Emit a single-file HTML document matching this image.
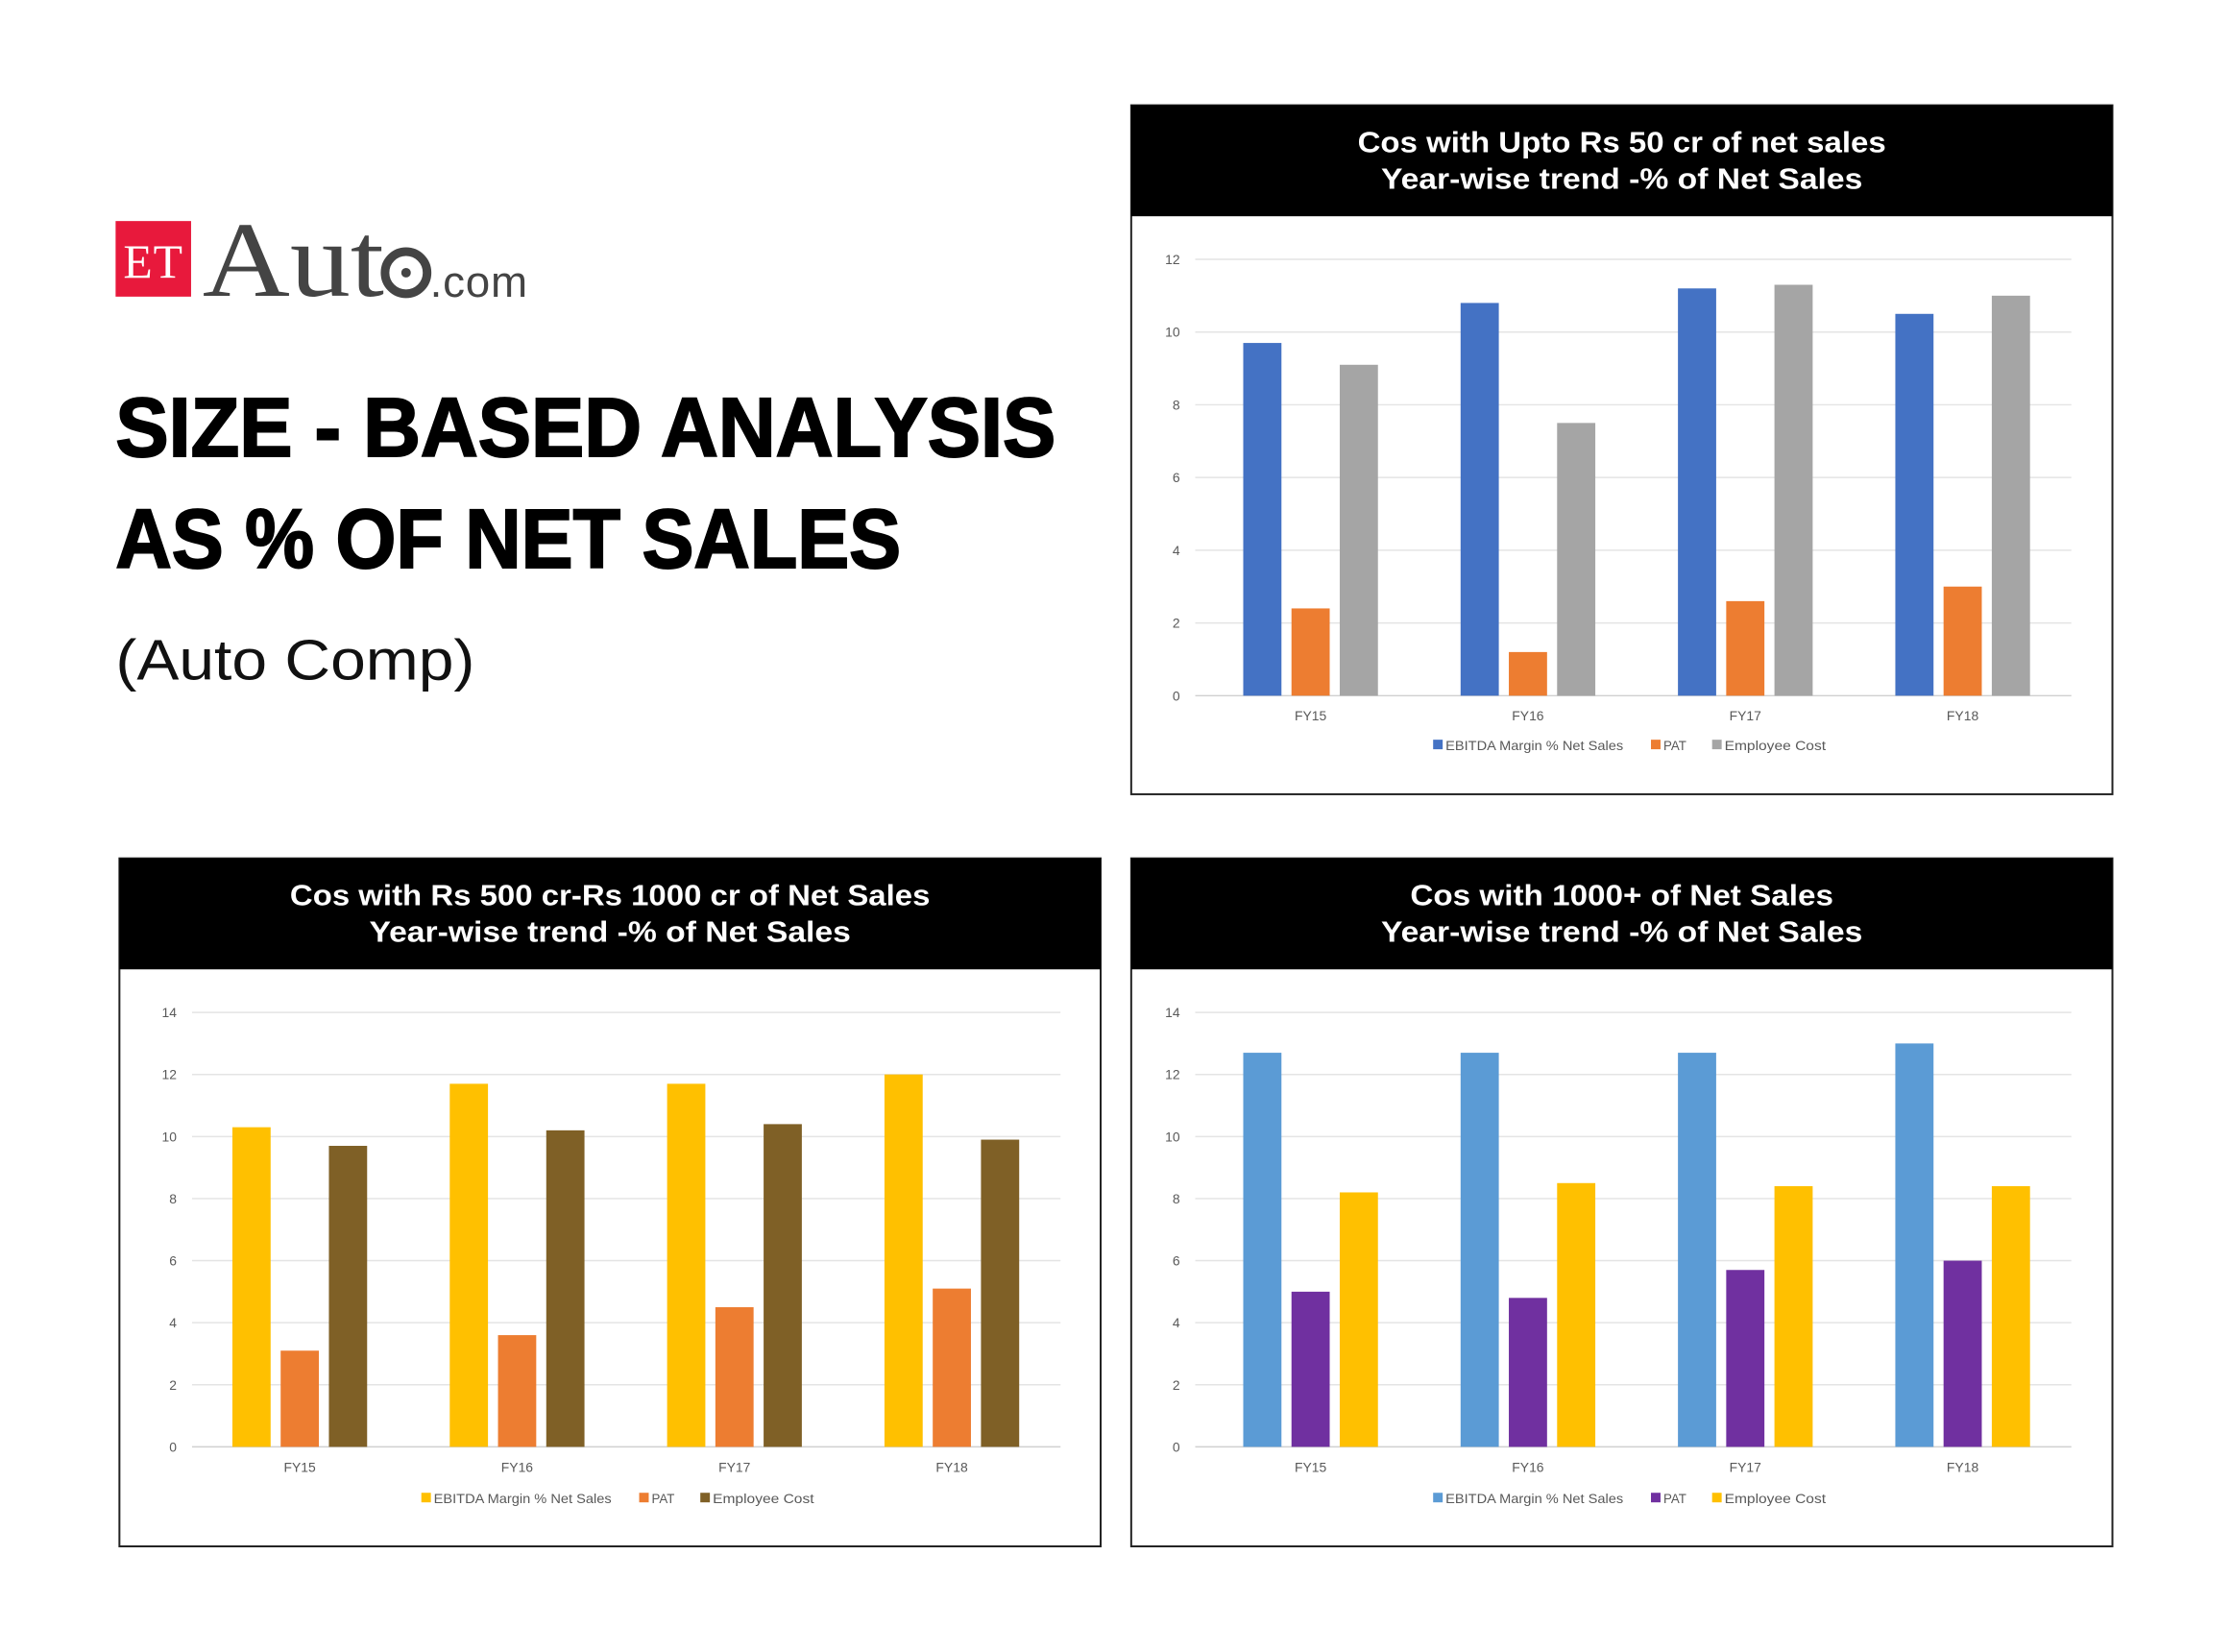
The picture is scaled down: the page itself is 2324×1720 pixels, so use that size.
<!DOCTYPE html>
<html><head><meta charset="utf-8">
<style>
html,body{margin:0;padding:0;background:#fff;}
svg{display:block;}
</style></head>
<body>
<svg id="page" width="2324" height="1720" viewBox="0 0 2324 1720" xmlns="http://www.w3.org/2000/svg">
  <rect width="2324" height="1720" fill="#fff"/>
  <g transform="scale(0.9948,0.9963)">
  <g>
    <rect x="121" y="231" width="79" height="79" fill="#e8193c"/>
    <text x="160" y="290" font-family="Liberation Serif, serif" font-size="50" fill="#fff" text-anchor="middle" textLength="62">ET</text>
    <text x="212" y="309" font-family="Liberation Serif, serif" font-size="112" fill="#444" textLength="190" lengthAdjust="spacingAndGlyphs">Aut</text>
    <circle cx="425" cy="285" r="22" fill="none" stroke="#444" stroke-width="9"/>
    <circle cx="425" cy="285" r="5" fill="#444"/>
    <text x="450" y="310" font-family="Liberation Sans, sans-serif" font-size="46" fill="#444" textLength="102">.com</text>
  </g>
  <text x="121" y="477" font-family="Liberation Sans, sans-serif" font-weight="bold" font-size="88" fill="#000" stroke="#000" stroke-width="2" textLength="984" lengthAdjust="spacingAndGlyphs">SIZE - BASED ANALYSIS</text>
  <text x="121" y="593" font-family="Liberation Sans, sans-serif" font-weight="bold" font-size="88" fill="#000" stroke="#000" stroke-width="2" textLength="822" lengthAdjust="spacingAndGlyphs">AS % OF NET SALES</text>
  <text x="121" y="710" font-family="Liberation Sans, sans-serif" font-size="60" fill="#111" textLength="376" lengthAdjust="spacingAndGlyphs">(Auto Comp)</text>
  <g id="charts"></g>
  </g>
</svg>
<script>
const categories = ["FY15","FY16","FY17","FY18"];
const seriesNames = ["EBITDA Margin % Net Sales","PAT","Employee Cost"];

const c1Ebitda = [9.7, 10.8, 11.2, 10.5];
const c1Pat = [2.4, 1.2, 2.6, 3.0];
const c1Emp = [9.1, 7.5, 11.3, 11.0];
const c1Ticks = [0,2,4,6,8,10,12];

const c2Ebitda = [10.3, 11.7, 11.7, 12.0];
const c2Pat = [3.1, 3.6, 4.5, 5.1];
const c2Emp = [9.7, 10.2, 10.4, 9.9];
const c2Ticks = [0,2,4,6,8,10,12,14];

const c3Ebitda = [12.7, 12.7, 12.7, 13.0];
const c3Pat = [5.0, 4.8, 5.7, 6.0];
const c3Emp = [8.2, 8.5, 8.4, 8.4];
const c3Ticks = [0,2,4,6,8,10,12,14];

const NS = "http://www.w3.org/2000/svg";
const root = document.getElementById('charts');
function mk(tag, attrs, parent){
  const e = document.createElementNS(NS, tag);
  for (const k in attrs) e.setAttribute(k, attrs[k]);
  parent.appendChild(e);
  return e;
}

function drawChart(o){
  const g = mk('g', {}, root);
  
  
  const frame = mk('rect', {x:o.bx, y:o.by, width:o.bw, height:o.bh, fill:'#fff', stroke:'#222', 'stroke-width':2}, g);
  
  
  const hdr = mk('rect', {x:o.bx, y:o.by, width:o.bw, height:116, fill:'#000'}, g);
  
  
  o.titles.forEach((t, i) => {
    const tx = mk('text', {x:o.bx+o.bw/2, y:o.by+49+i*38, 'text-anchor':'middle', 'font-family':'Liberation Sans, sans-serif', 'font-weight':'bold', 'font-size':31, fill:'#fff', textLength:o.titleLens[i], lengthAdjust:'spacingAndGlyphs'}, g);
    tx.textContent = t;
    
    
  });
  const maxV = o.ticks[o.ticks.length-1];
  const y = v => o.y0 - (o.y0 - o.yTop) * v / maxV;
  const catW = (o.pr - o.pl) / categories.length;
  const cx = i => o.pl + catW * (i + 0.5);
  o.ticks.forEach(t => {
    const ln = mk('line', {x1:o.gl, x2:o.pr, y1:y(t), y2:y(t), stroke: t===0 ? '#d0d0d0' : '#e4e4e4', 'stroke-width':1.5}, g);
    
    
    const lb = mk('text', {x:o.gl-16, y:y(t)+5, 'text-anchor':'end', 'font-family':'Liberation Sans, sans-serif', 'font-size':14, fill:'#595959'}, g);
    lb.textContent = t;
    
    
  });
  const bw = 40, step = 50.5;
  o.series.forEach((s, si) => {
    s.forEach((v, i) => {
      const x = cx(i) + (si - 1) * step - bw/2;
      const r = mk('rect', {x:x, y:y(v), width:bw, height:o.y0 - y(v), fill:o.colors[si]}, g);
      
      
    });
  });
  categories.forEach((c, i) => {
    const t = mk('text', {x:cx(i), y:o.y0+26, 'text-anchor':'middle', 'font-family':'Liberation Sans, sans-serif', 'font-size':14, fill:'#595959'}, g);
    t.textContent = c;
    
    
  });
  const lx = [0, 228, 292];
  const lw = [186, 24, 106];
  seriesNames.forEach((n, si) => {
    const lg = mk('g', {}, g);
    
    
    mk('rect', {x:o.lx + lx[si], y:o.ly-11, width:10, height:10, fill:o.colors[si]}, lg);
    const t = mk('text', {x:o.lx + lx[si] + 13, y:o.ly, 'font-family':'Liberation Sans, sans-serif', 'font-size':14, fill:'#595959', textLength:lw[si], lengthAdjust:'spacingAndGlyphs'}, lg);
    t.textContent = n;
  });
}

drawChart({name:'chart-upto-50cr', bx:1184, by:110, bw:1027, bh:720,
  titles:['Cos with Upto Rs 50 cr of net sales','Year-wise trend -% of Net Sales'], titleLens:[553,504],
  ticks:c1Ticks, yTop:271, y0:727, gl:1251, pl:1258, pr:2168,
  series:[c1Ebitda, c1Pat, c1Emp], colors:['#4472c4','#ed7d31','#a5a5a5'], lx:1500, ly:784});

drawChart({name:'chart-500-1000cr', bx:125, by:897, bw:1027, bh:719,
  titles:['Cos with Rs 500 cr-Rs 1000 cr of Net Sales','Year-wise trend -% of Net Sales'], titleLens:[670,504],
  ticks:c2Ticks, yTop:1058, y0:1512, gl:201, pl:200, pr:1110,
  series:[c2Ebitda, c2Pat, c2Emp], colors:['#ffc000','#ed7d31','#7f6026'], lx:441, ly:1571});

drawChart({name:'chart-1000plus', bx:1184, by:897, bw:1027, bh:719,
  titles:['Cos with 1000+ of Net Sales','Year-wise trend -% of Net Sales'], titleLens:[443,504],
  ticks:c3Ticks, yTop:1058, y0:1512, gl:1251, pl:1258, pr:2168,
  series:[c3Ebitda, c3Pat, c3Emp], colors:['#5b9bd5','#7030a0','#ffc000'], lx:1500, ly:1571});
</script>
</body></html>
